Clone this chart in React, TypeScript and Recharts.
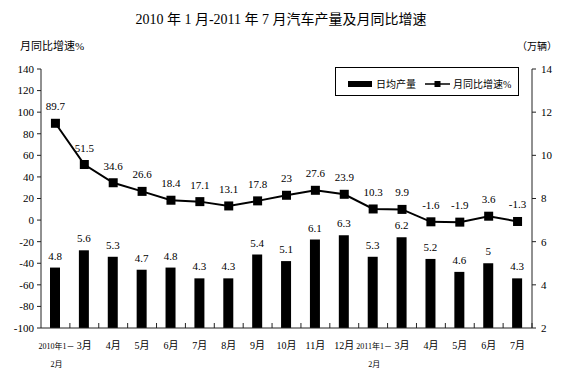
import React from 'react';
import { ComposedChart, Bar, Line, XAxis, YAxis, LabelList } from 'recharts';

const categories = [
  '2010年1－\n2月', '3月', '4月', '5月', '6月', '7月', '8月', '9月', '10月', '11月', '12月',
  '2011年1－\n2月', '3月', '4月', '5月', '6月', '7月',
];
const dailyOutput = [4.8, 5.6, 5.3, 4.7, 4.8, 4.3, 4.3, 5.4, 5.1, 6.1, 6.3, 5.3, 6.2, 5.2, 4.6, 5, 4.3];
const yoyGrowth = [89.7, 51.5, 34.6, 26.6, 18.4, 17.1, 13.1, 17.8, 23, 27.6, 23.9, 10.3, 9.9, -1.6, -1.9, 3.6, -1.3];
const leftTicks = [-100, -80, -60, -40, -20, 0, 20, 40, 60, 80, 100, 120, 140];
const rightTicks = [2, 4, 6, 8, 10, 12, 14];

const title = '2010 年 1 月-2011 年 7 月汽车产量及月同比增速';
const leftTitle = '月同比增速%';
const rightTitle = '（万辆）';
const barName = '日均产量';
const lineName = '月同比增速%';

const data = categories.map((c, i) => ({ name: c, output: dailyOutput[i], growth: yoyGrowth[i] }));

const W = 567;
const H = 380;
const LEFT_W = 41;
const RIGHT_W = 35;
const BAND = (W - LEFT_W - RIGHT_W) / categories.length;
const FONT = "'Liberation Serif', 'Noto Sans CJK SC', serif";

const XTick = (props: any) => {
  const { x, y, payload } = props;
  const lines = String(payload.value).split('\n');
  const multi = lines.length > 1;
  return (
    <g>
      <line x1={x + BAND / 2} x2={x + BAND / 2} y1={y} y2={y - 5} stroke="#222" strokeWidth={1} />
      {lines.map((l, i) => (
        <text
          key={i}
          x={x + (multi ? 1 : 0)}
          y={y + 21 + i * 18}
          textAnchor="middle"
          fontSize={multi ? 8 : 10}
          fill="#000"
          fontFamily={FONT}
        >
          {l}
        </text>
      ))}
    </g>
  );
};

const SquareDot = (props: any) => {
  const { cx, cy } = props;
  if (cx == null || cy == null) return null;
  return <rect x={cx - 4.5} y={cy - 4.5} width={9} height={9} fill="#000" />;
};

export default function App() {
  return (
    <div style={{ position: 'absolute', left: 0, top: 0, width: W, height: H, fontFamily: FONT, background: '#fff' }}>
      <ComposedChart width={W} height={H} data={data} margin={{ top: 69, right: 0, bottom: 12, left: 0 }}>
        <XAxis
          dataKey="name"
          height={40}
          tickLine={false}
          tickSize={0}
          tickMargin={0}
          interval={0}
          axisLine={{ stroke: '#222' }}
          tick={<XTick />}
        />
        <YAxis
          yAxisId="left"
          orientation="left"
          width={LEFT_W}
          domain={[-100, 140]}
          ticks={leftTicks}
          interval={0}
          tickSize={4}
          tickMargin={3}
          axisLine={{ stroke: '#222' }}
          tickLine={{ stroke: '#222' }}
          tick={{ fill: '#000', fontSize: 11, fontFamily: FONT }}
        />
        <YAxis
          yAxisId="right"
          orientation="right"
          width={RIGHT_W}
          domain={[2, 14]}
          ticks={rightTicks}
          interval={0}
          tickSize={4}
          tickMargin={5}
          axisLine={{ stroke: '#222' }}
          tickLine={{ stroke: '#222' }}
          tick={{ fill: '#000', fontSize: 11, fontFamily: FONT }}
        />
        <Bar yAxisId="right" dataKey="output" fill="#000" barSize={10} isAnimationActive={false}>
          <LabelList dataKey="output" position="top" offset={8} fill="#000" fontSize={11} fontFamily={FONT} />
        </Bar>
        <Line
          yAxisId="left"
          dataKey="growth"
          stroke="#000"
          strokeWidth={2}
          dot={<SquareDot />}
          activeDot={false}
          isAnimationActive={false}
        >
          <LabelList dataKey="growth" position="top" offset={13} fill="#000" fontSize={11} fontFamily={FONT} />
        </Line>
      </ComposedChart>
      <svg width={W} height={H} style={{ position: 'absolute', left: 0, top: 0, pointerEvents: 'none' }}>
        <text x={281} y={24} textAnchor="middle" fontSize={14} fill="#000" fontFamily={FONT}>{title}</text>
        <text x={20} y={50} fontSize={11} fill="#000" fontFamily={FONT}>{leftTitle}</text>
        <text x={537} y={50} textAnchor="middle" fontSize={10} fill="#000" fontFamily={FONT}>{rightTitle}</text>
        <rect x={335.5} y={67.5} width={183} height={28} fill="#fff" stroke="#000" strokeWidth={1} />
        <rect x={348} y={81} width={24} height={6} fill="#000" />
        <text x={376} y={88} fontSize={10} fill="#000" fontFamily={FONT}>{barName}</text>
        <line x1={425} x2={450} y1={84} y2={84} stroke="#000" strokeWidth={1.5} />
        <rect x={434.5} y={81} width={6} height={6} fill="#000" />
        <text x={453} y={88} fontSize={10} fill="#000" fontFamily={FONT}>{lineName}</text>
      </svg>
    </div>
  );
}
